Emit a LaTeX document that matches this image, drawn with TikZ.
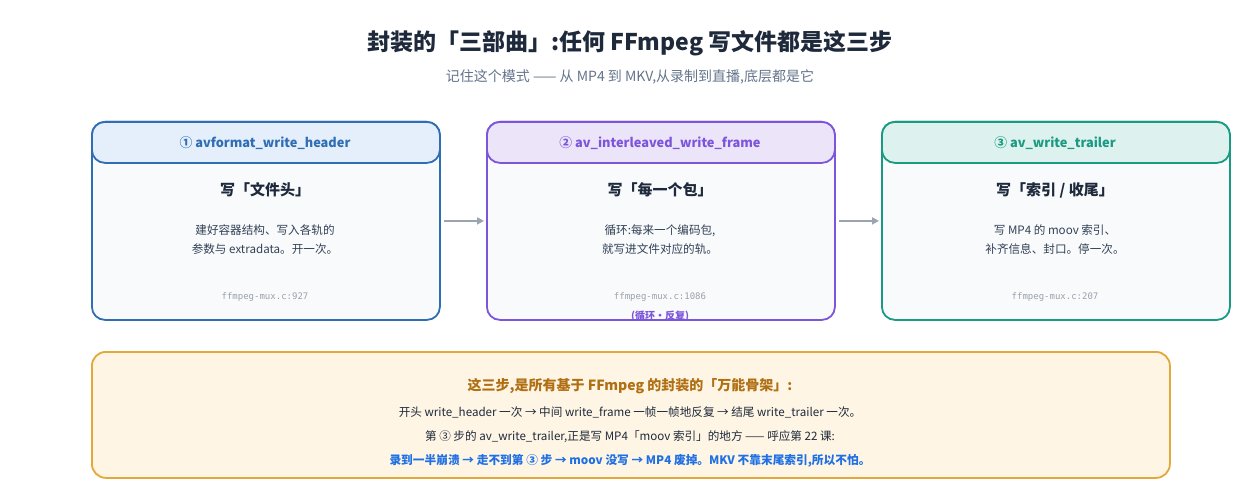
\documentclass[tikz,border=0pt]{standalone}
\usepackage{fontspec}
\setmainfont{Noto Sans CJK SC}
\newfontfamily\monofont{DejaVu Sans Mono}
\usetikzlibrary{arrows.meta}
\definecolor{cblue}{HTML}{2F6DB5}
\definecolor{hblue}{HTML}{E4EFFB}
\definecolor{cpurp}{HTML}{7D55DB}
\definecolor{hpurp}{HTML}{ECE4F9}
\definecolor{cteal}{HTML}{1A9A82}
\definecolor{hteal}{HTML}{DDF2EE}
\definecolor{bodyfill}{HTML}{F8FAFC}
\definecolor{darktxt}{HTML}{1E293B}
\definecolor{desctxt}{HTML}{334155}
\definecolor{subtxt}{HTML}{64748B}
\definecolor{monogray}{HTML}{9AA1AB}
\definecolor{arrgray}{HTML}{9AA5B1}
\definecolor{notefill}{HTML}{FEF5E4}
\definecolor{notedraw}{HTML}{E2A83A}
\definecolor{notehead}{HTML}{B06F13}
\definecolor{noteblue}{HTML}{1F6FE5}
\tikzset{
  card/.style={draw=#1, line width=1.8pt, rounded corners=13pt, fill=bodyfill,
    minimum width=348, minimum height=198, anchor=north west, inner sep=0pt},
  headbox/.style={draw=#1, line width=1.8pt, rounded corners=13pt,
    minimum width=348, minimum height=41, anchor=north west, inner sep=0pt},
  headtxt/.style={text=#1, font=\fontsize{12.8}{16}\selectfont\bfseries},
  cardtitle/.style={text=darktxt, font=\fontsize{15}{18}\selectfont\bfseries},
  carddesc/.style={text=desctxt, font=\fontsize{11.6}{19}\selectfont, align=center},
  srcref/.style={text=monogray, font=\fontsize{9}{11}\monofont},
  flowarrow/.style={draw=arrgray, line width=2.5pt, -{Triangle[length=7pt,width=7pt]}},
  notetxt/.style={text=darktxt, font=\fontsize{11.6}{14}\selectfont},
}
\begin{document}
\begin{tikzpicture}[x=1pt,y=-1pt]
\useasboundingbox[fill=white] (0,0) rectangle (1260,500);

% title
\node[text=darktxt, font=\fontsize{23}{27}\selectfont\bfseries] (title) at (630,43) {封装的「三部曲」:任何 FFmpeg 写文件都是这三步};
\node[text=subtxt, font=\fontsize{14}{17}\selectfont] (subtitle) at (630,77) {记住这个模式 —— 从 MP4 到 MKV,从录制到直播,底层都是它};

% card 1
\node[card=cblue] (b1) at (91,121) {};
\node[headbox=cblue, fill=hblue] (h1) at (91,121) {};
\node[headtxt=cblue] (h1t) at (265,143) {① avformat\_write\_header};
\node[cardtitle] (t1) at (265,190) {写「文件头」};
\node[carddesc] (d1) at (265,240) {建好容器结构、写入各轨的\\参数与 extradata。开一次。};
\node[srcref] (s1) at (265,297) {ffmpeg-mux.c:927};

% card 2
\node[card=cpurp] (b2) at (486,121) {};
\node[headbox=cpurp, fill=hpurp] (h2) at (486,121) {};
\node[headtxt=cpurp] (h2t) at (660,143) {② av\_interleaved\_write\_frame};
\node[cardtitle] (t2) at (660,190) {写「每一个包」};
\node[carddesc] (d2) at (660,240) {循环:每来一个编码包,\\就写进文件对应的轨。};
\node[srcref] (s2) at (660,297) {ffmpeg-mux.c:1086};
\node[text=cpurp, font=\fontsize{10}{12}\selectfont\bfseries] (loop) at (660,316) {(循环·反复)};

% card 3
\node[card=cteal] (b3) at (881,121) {};
\node[headbox=cteal, fill=hteal] (h3) at (881,121) {};
\node[headtxt=cteal] (h3t) at (1055,143) {③ av\_write\_trailer};
\node[cardtitle] (t3) at (1055,190) {写「索引 / 收尾」};
\node[carddesc] (d3) at (1055,240) {写 MP4 的 moov 索引、\\补齐信息、封口。停一次。};
\node[srcref] (s3) at (1055,297) {ffmpeg-mux.c:207};

% arrows
\draw[flowarrow] ([xshift=3]b1.east) -- ([xshift=-2]b2.west);
\draw[flowarrow] ([xshift=3]b2.east) -- ([xshift=-2]b3.west);

% note box
\node[draw=notedraw, line width=1.8pt, rounded corners=14pt, fill=notefill,
  minimum width=1078, minimum height=126, anchor=north west, inner sep=0pt] (note) at (91,351) {};
\node[text=notehead, font=\fontsize{14}{17}\selectfont\bfseries] (n1) at (630,386) {这三步,是所有基于 FFmpeg 的封装的「万能骨架」:};
\node[notetxt] (n2) at (630,412) {开头 write\_header 一次 → 中间 write\_frame 一帧一帧地反复 → 结尾 write\_trailer 一次。};
\node[notetxt] (n3) at (630,437) {第 ③ 步的 av\_write\_trailer,正是写 MP4「moov 索引」的地方 —— 呼应第 22 课:};
\node[text=noteblue, font=\fontsize{11.7}{14}\selectfont\bfseries] (n4) at (630,461) {录到一半崩溃 → 走不到第 ③ 步 → moov 没写 → MP4 废掉。MKV 不靠末尾索引,所以不怕。};
\end{tikzpicture}
\end{document}
